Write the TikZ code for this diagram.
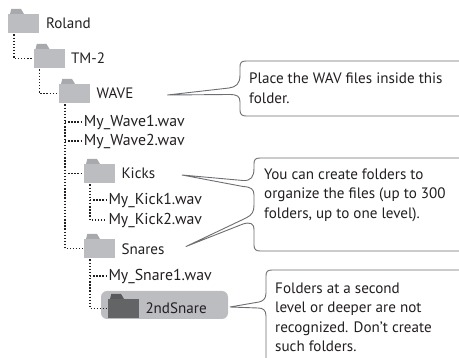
\documentclass[tikz,border=0pt]{standalone}
\usepackage{fontspec}
\setmainfont{PT Sans}
\usetikzlibrary{calc}
\definecolor{foldercol}{HTML}{BCBDC0}
\definecolor{tabcol}{HTML}{A7A9AC}
\definecolor{darkfolder}{HTML}{636466}
\definecolor{darktab}{HTML}{58595B}
\definecolor{calloutcol}{HTML}{6D6E71}
\definecolor{inkcol}{HTML}{231F20}
\tikzset{
  x=1pt,y=-1pt,
  foldernode/.style={rectangle,fill=foldercol,minimum width=31pt,minimum height=19pt,inner sep=0pt,outer sep=1.5pt},
  darkfoldernode/.style={foldernode,fill=darkfolder},
  label text/.style={anchor=west,inner sep=0pt,outer sep=2.5pt,text=inkcol,font=\fontsize{15.1}{15}\selectfont,text height=15pt,text depth=5pt},
  file text/.style={label text,font=\fontsize{15.8}{15}\selectfont},
  note text/.style={anchor=north west,inner sep=0pt,align=left,text=inkcol,font=\fontsize{15.1}{19.5}\selectfont},
  tree line/.style={draw=inkcol,line width=1.4pt,dash pattern=on 1.4pt off 1.7pt},
  callout line/.style={draw=calloutcol,line width=0.9pt,fill=white,line join=round},
  pill/.style={rectangle,rounded corners=6pt,fill=foldercol,minimum width=127pt,minimum height=28pt,inner sep=0pt},
}
\newcommand{\foldertab}[2]{\fill[#2] ($(#1.north west)+(3.5,1.5)$) -- ($(#1.north west)+(4.8,-3.5)$) -- ($(#1.north west)+(14.5,-3.5)$) -- ($(#1.north west)+(17.5,1.5)$) -- cycle;}
\begin{document}
\begin{tikzpicture}
\useasboundingbox (0,0) rectangle (459,358);
\node[pill] (pillbox) at (164.5,305) {};
% folders
\node[foldernode] (roland) at (23.5,23.5) {};
\node[foldernode] (tm) at (49,58.5) {};
\node[foldernode] (wave) at (74.5,93.5) {};
\node[foldernode] (kicks) at (99.5,173.5) {};
\node[foldernode] (snares) at (99.5,248.5) {};
\node[darkfoldernode] (second) at (123.5,308.5) {};
\foldertab{roland}{tabcol}
\foldertab{tm}{tabcol}
\foldertab{wave}{tabcol}
\foldertab{kicks}{tabcol}
\foldertab{snares}{tabcol}
\foldertab{second}{darktab}
% labels
\node[label text] (lroland) at (43.5,24) {Roland};
\node[label text] (ltm) at (68.5,59) {TM-2};
\node[label text] (lwave) at (94,94) {WAVE};
\node[file text] (wone) at (81.5,122) {My\_Wave1.wav};
\node[file text] (wtwo) at (81.5,141) {My\_Wave2.wav};
\node[label text] (lkicks) at (119,174) {Kicks};
\node[file text] (kone) at (106,200) {My\_Kick1.wav};
\node[file text] (ktwo) at (106,220) {My\_Kick2.wav};
\node[label text] (lsnares) at (119,250) {Snares};
\node[file text] (sone) at (106,276) {My\_Snare1.wav};
\node[label text] (ltwo) at (143,309) {2ndSnare};
% tree connectors
\coordinate (tr) at ($(roland.south west)+(7.5,0)$);
\coordinate (tt) at ($(tm.south west)+(7.5,0)$);
\coordinate (tw) at ($(wave.south west)+(7.5,0)$);
\coordinate (tk) at ($(kicks.south west)+(7.5,0)$);
\coordinate (ts) at ($(snares.south west)+(7.5,0)$);
\draw[tree line] (tr) |- (tm.west);
\draw[tree line] (tt) |- (wave.west);
\draw[tree line] (tw) |- (snares.west);
\draw[tree line] (wone.west -| tw) -- (wone.west);
\draw[tree line] (wtwo.west -| tw) -- (wtwo.west);
\draw[tree line] (kicks.west -| tw) -- (kicks.west);
\draw[tree line] (tk) |- (ktwo.west);
\draw[tree line] (kone.west -| tk) -- (kone.west);
\draw[tree line] (ts) |- (second.west);
\draw[tree line] (sone.west -| ts) -- (sone.west);
% callouts
\coordinate (tipwave) at (167.5,95);
\coordinate (tipkicks) at (182,175);
\coordinate (tipsnares) at (186,246.5);
\coordinate (tipsecond) at (230,307);
\draw[callout line] (460,61) -- (246,61) .. controls (241,61) and (240,63) .. (240,67) -- (240,75)
  .. controls (240,84) and (236,87) .. (229,88) -- (tipwave) -- (229,94.5)
  .. controls (237,94.5) and (240,96) .. (240,102) -- (240,110)
  .. controls (240,114.5) and (242,116) .. (246,116) -- (460,116);
\draw[callout line] (460,158) -- (260,158) .. controls (255,158) and (254,160) .. (254,164) -- (254,168)
  .. controls (254,177) and (251,181) .. (243,180.5) -- (tipkicks) -- (243,186.5)
  .. controls (251,187) and (254,189) .. (254,195) -- (254,205)
  .. controls (254,212) and (252,215) .. (246,218) -- (tipsnares) -- (243,224)
  .. controls (250,222) and (254,223) .. (254,230) -- (254,245)
  .. controls (254,249.5) and (256,251) .. (260,251) -- (460,251);
\draw[callout line] (460,270) -- (272,270) .. controls (267,270) and (266,272) .. (266,276) -- (266,293)
  .. controls (266,299) and (263,301) .. (259,302) -- (tipsecond) -- (258,308)
  .. controls (263,308) and (266,310) .. (266,316) -- (266,358);
% notes
\node[note text] (noteone) at (249,73) {Place the WAV files inside this\\folder.};
\node[note text] (notetwo) at (264,168.5) {You can create folders to\\organize the files (up to 300\\folders, up to one level).};
\node[note text] (notethree) at (275,282.5) {Folders at a second\\level or deeper are not\\recognized. Don’t create\\such folders.};
\end{tikzpicture}
\end{document}
